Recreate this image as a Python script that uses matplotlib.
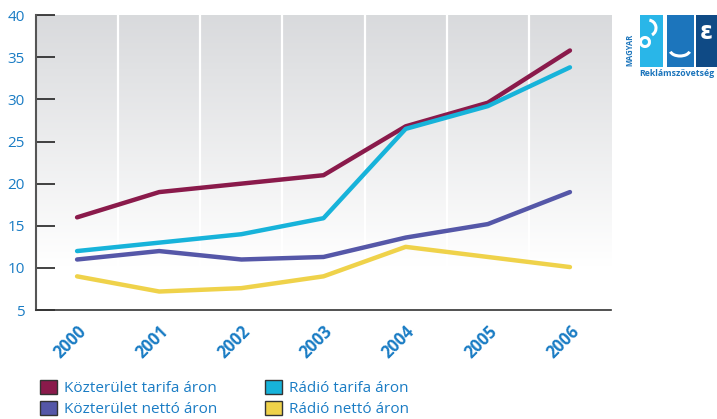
import numpy as np
import matplotlib.pyplot as plt
import matplotlib.transforms as mtransforms
from matplotlib.patches import Patch, Rectangle, Arc

plt.rcParams['font.family'] = ['Open Sans', 'DejaVu Sans']

years = ['2000', '2001', '2002', '2003', '2004', '2005', '2006']
kozterulet_tarifa = [16, 19, 20, 21, 26.8, 29.6, 35.8]
radio_tarifa = [12, 13, 14, 15.9, 26.5, 29.2, 33.8]
kozterulet_netto = [11, 12, 11, 11.3, 13.6, 15.2, 19]
radio_netto = [9, 7.2, 7.6, 9, 12.5, 11.3, 10.1]

series = [
    ('Közterület tarifa áron', kozterulet_tarifa, '#8a1a4b'),
    ('Közterület nettó áron', kozterulet_netto, '#5557a8'),
    ('Rádió tarifa áron', radio_tarifa, '#17b3da'),
    ('Rádió nettó áron', radio_netto, '#efd24a'),
]
label_blue = '#1a7cc4'

fig = plt.figure(figsize=(7.17, 4.19), dpi=100)
ax = fig.add_axes([0.0502, 0.26, 0.802, 0.704])

x = np.arange(len(years))
ax.set_xlim(-0.5, len(years) - 0.5)
ax.set_ylim(5, 40)

# grey-to-white gradient behind the plot
grad = np.linspace(0, 1, 256).reshape(-1, 1)
top = np.array([0.85, 0.855, 0.865])
bottom = np.array([1.0, 1.0, 1.0])
t = np.clip(grad / 0.85, 0, 1)
img = top + (bottom - top) * t
img = np.repeat(img[:, None, :], 2, axis=1)
ax.imshow(img, extent=[-0.5, len(years) - 0.5, 5, 40], origin='upper',
          aspect='auto', zorder=0)

for b in np.arange(0.5, len(years) - 0.5, 1):
    ax.axvline(b, color='white', lw=1.6, zorder=1)

for name, vals, col in series:
    ax.plot(x, vals, color=col, lw=3.2, solid_capstyle='round', zorder=3)

ax.set_xticks(x)
ax.set_xticklabels(years, rotation=45, ha='right', va='top', rotation_mode='anchor',
                   fontsize=12, fontweight='bold', color=label_blue)
shift = mtransforms.ScaledTranslation(9 / 72, 0, fig.dpi_scale_trans)
for lab in ax.get_xticklabels():
    lab.set_transform(lab.get_transform() + shift)
ax.tick_params(axis='x', length=0, pad=9)
ax.set_yticks(range(5, 45, 5))
ax.tick_params(axis='y', direction='in', length=14, width=1.2, color='#222222',
               labelsize=11, labelcolor=label_blue, pad=8)
ax.spines['top'].set_visible(False)
ax.spines['right'].set_visible(False)
ax.spines['left'].set_color('#555555')
ax.spines['left'].set_linewidth(1.5)
ax.spines['bottom'].set_color('#333333')
ax.spines['bottom'].set_linewidth(1.2)

handles = [Patch(facecolor=col, edgecolor='#333333', label=name) for name, _, col in series]
fig.legend(handles=handles, ncols=2, loc='upper left', bbox_to_anchor=(0.045, 0.112),
           frameon=False, fontsize=11, labelcolor=label_blue, handlelength=1.1,
           handleheight=1.1, handletextpad=0.5, columnspacing=3.1, labelspacing=0.3,
           borderpad=0)

# logo in the top right corner (drawn in pixel coordinates)
for x0, w, c in [(640, 23, '#29b6e8'), (667, 27, '#1c75bc'), (696, 25, '#0f4a85')]:
    fig.add_artist(Rectangle((x0, 419 - 67), w, 52, transform=None,
                             facecolor=c, edgecolor='none'))
fig.add_artist(Arc((648, 419 - 28), 16, 16, theta1=-60, theta2=80, transform=None,
                   color='white', lw=2.2))
fig.add_artist(Arc((645, 419 - 42), 9, 9, transform=None, color='white', lw=2.2))
fig.add_artist(Arc((680, 419 - 50), 20, 12, theta1=190, theta2=350, transform=None,
                   color='white', lw=2.2))
fig.text(706, 419 - 32, 'ε', transform=None, fontsize=17, fontweight='bold',
         color='white', ha='center', va='center', family='DejaVu Sans')
fig.text(0.879, 0.88, 'MAGYAR', rotation=90, fontsize=5.5, fontweight='bold',
         color='#1c75bc', ha='center', va='center')
fig.text(0.892, 0.835, 'Reklámszövetség', fontsize=6.3, fontweight='bold',
         color='#1c75bc', ha='left', va='top')

fig.savefig('out.png', dpi=100)
